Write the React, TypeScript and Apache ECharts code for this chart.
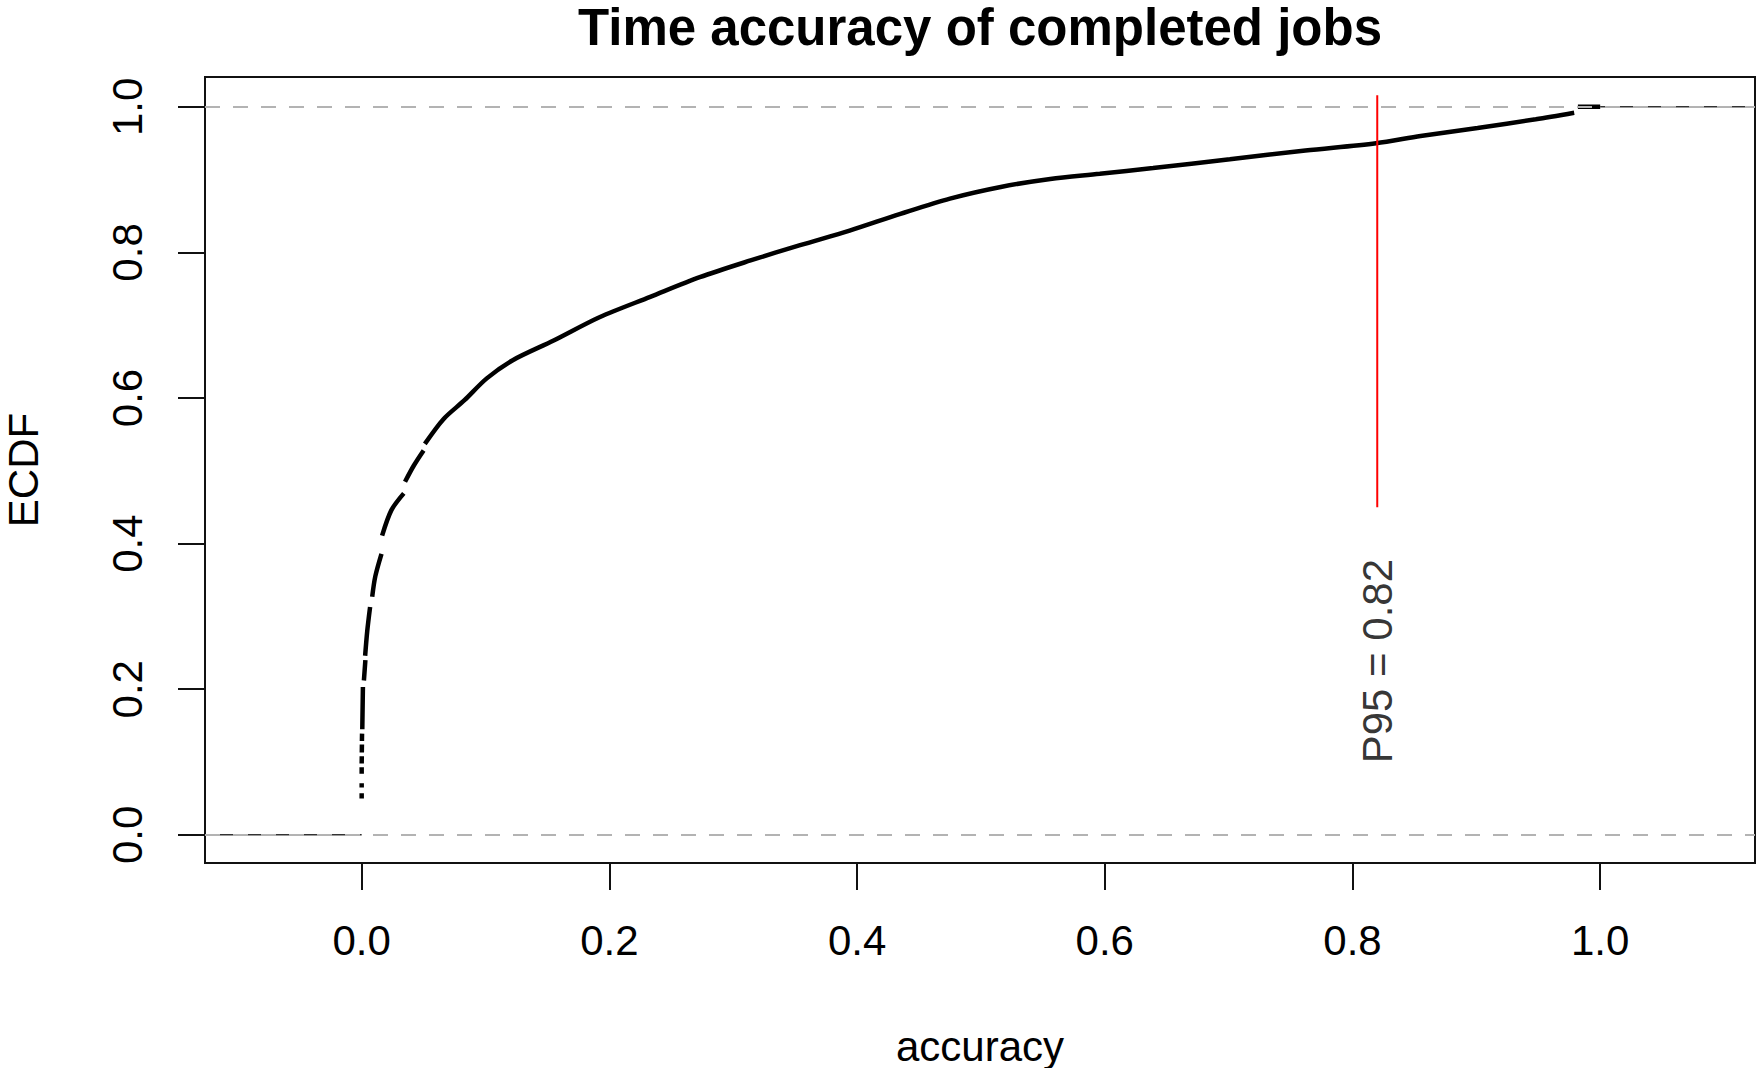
import React, { useEffect, useRef } from "react";
import * as echarts from "echarts";

const chartTitle = "Time accuracy of completed jobs";
const xName = "accuracy";
const yName = "ECDF";
const xTicks = [0, 0.2, 0.4, 0.6, 0.8, 1.0];
const yTicks = [0, 0.2, 0.4, 0.6, 0.8, 1.0];

// Empirical CDF of job accuracy; null splits the path where the step function jumps
const ecdfX = [
  0.0, 0.0, null,
  0.0, 0.0, null,
  0.0, 0.0, null,
  0.0, 0.0001, null,
  0.0001, 0.0002, null,
  0.0002, 0.0003, null,
  0.0005, 0.001, null,
  0.0018, 0.003, null,
  0.0028, 0.0045, 0.0068, null,
  0.0085, 0.011, 0.016, null,
  0.0165, 0.024, 0.034, null,
  0.035, 0.042, 0.05, null,
  0.051, 0.066, 0.083, 0.101, 0.122, 0.155, 0.192, 0.233, 0.273, 0.314, 0.354,
  0.394, 0.435, 0.475, 0.516, 0.556, 0.596, 0.639, 0.701, 0.762, 0.819, 0.855,
  0.901, 0.948, 0.979, null,
  0.982, 1.0,
];
const ecdfY = [
  0.05, 0.057, null,
  0.065, 0.071, null,
  0.084, 0.093, null,
  0.098, 0.108, null,
  0.113, 0.124, null,
  0.129, 0.139, null,
  0.145, 0.203, null,
  0.212, 0.24, null,
  0.246, 0.28, 0.313, null,
  0.327, 0.355, 0.386, null,
  0.411, 0.446, 0.469, null,
  0.485, 0.507, 0.528, null,
  0.537, 0.571, 0.597, 0.627, 0.652, 0.679, 0.711, 0.739, 0.766, 0.789, 0.81,
  0.83, 0.853, 0.874, 0.89, 0.901, 0.908, 0.916, 0.928, 0.94, 0.95, 0.96,
  0.971, 0.983, 0.992, null,
  1.0, 1.0,
];

// Flat parts of the step function outside the observed range
const tailX = [-0.116, 0.0, null, 1.0, 1.125];
const tailY = [0.0, 0.0, null, 1.0, 1.0];

// 95th percentile marker
const p95Value = 0.82;
const p95From = 0.45;
const p95To = 1.016;
const p95LabelY = 0.2386;

const FONT = "Liberation Sans, Arial, Helvetica, sans-serif";

const toPairs = (xs: (number | null)[], ys: (number | null)[]) =>
  xs.map((x, i) => (x === null || ys[i] === null ? "-" : [x, ys[i]]));

export default function App() {
  const ref = useRef<HTMLDivElement>(null);

  useEffect(() => {
    if (!ref.current) return;
    const chart = echarts.init(ref.current, undefined, { renderer: "svg" });

    const axisText = { fontSize: 42, fontFamily: FONT, color: "#000" };

    chart.setOption({
      animation: false,
      backgroundColor: "#fff",
      grid: {
        left: 205,
        top: 77,
        right: 2,
        bottom: 205,
        containLabel: false,
        outerBoundsMode: "none",
        show: true,
        borderColor: "#111",
        borderWidth: 2,
        backgroundColor: "transparent",
      },
      graphic: [
        {
          type: "text",
          x: 980,
          y: 27,
          style: {
            text: chartTitle,
            font: `bold 51px ${FONT}`,
            fill: "#000",
            textAlign: "center",
            textVerticalAlign: "middle",
          },
        },
      ],
      xAxis: {
        type: "value",
        min: -0.1265,
        max: 1.125,
        splitLine: { show: false },
        axisLine: { show: true, onZero: false, lineStyle: { color: "#111", width: 2 } },
        axisTick: {
          show: true,
          inside: false,
          customValues: xTicks,
          length: 27,
          lineStyle: { color: "#111", width: 2 },
        },
        axisLabel: {
          customValues: xTicks,
          formatter: (v: number) => v.toFixed(1),
          margin: 56,
          ...axisText,
        },
        name: xName,
        nameLocation: "middle",
        nameGap: 162,
        nameTextStyle: axisText,
      },
      yAxis: {
        type: "value",
        min: -0.0387,
        max: 1.041,
        splitLine: { show: false },
        axisLine: { show: true, onZero: false, lineStyle: { color: "#111", width: 2 } },
        axisTick: {
          show: true,
          inside: false,
          customValues: yTicks,
          length: 27,
          lineStyle: { color: "#111", width: 2 },
        },
        axisLabel: {
          customValues: yTicks,
          formatter: (v: number) => v.toFixed(1),
          rotate: 90,
          margin: 57,
          ...axisText,
        },
        name: yName,
        nameLocation: "middle",
        nameGap: 161,
        nameTextStyle: axisText,
      },
      series: [
        {
          name: "bounds",
          type: "line",
          data: [],
          silent: true,
          z: 1,
          markLine: {
            silent: true,
            symbol: ["none", "none"],
            label: { show: false },
            lineStyle: { color: "#B3B3B3", width: 2, type: [15, 13] },
            data: [{ yAxis: 0 }, { yAxis: 1 }],
          },
        },
        {
          name: "tails",
          type: "line",
          data: toPairs(tailX, tailY),
          showSymbol: false,
          connectNulls: false,
          silent: true,
          z: 2,
          lineStyle: { color: "#333", width: 1.5 },
        },
        {
          name: "ecdf",
          type: "line",
          data: toPairs(ecdfX, ecdfY),
          showSymbol: false,
          connectNulls: false,
          smooth: 0.3,
          silent: true,
          z: 3,
          lineStyle: { color: "#000", width: 4.5 },
        },
        {
          name: "p95",
          type: "line",
          data: [
            [p95Value, p95From],
            [p95Value, p95To],
          ],
          showSymbol: false,
          silent: true,
          z: 4,
          lineStyle: { color: "#FF0000", width: 2 },
        },
        {
          name: "p95 label",
          type: "scatter",
          data: [[p95Value, p95LabelY]],
          symbolSize: 0,
          silent: true,
          z: 5,
          label: {
            show: true,
            position: "inside",
            rotate: 90,
            formatter: `P95 = ${p95Value.toFixed(2)}`,
            ...axisText,
          },
        },
      ],
    });

    return () => chart.dispose();
  }, []);

  return (
    <div
      ref={ref}
      style={{ position: "fixed", left: 0, top: 0, width: 1757, height: 1068 }}
    />
  );
}
